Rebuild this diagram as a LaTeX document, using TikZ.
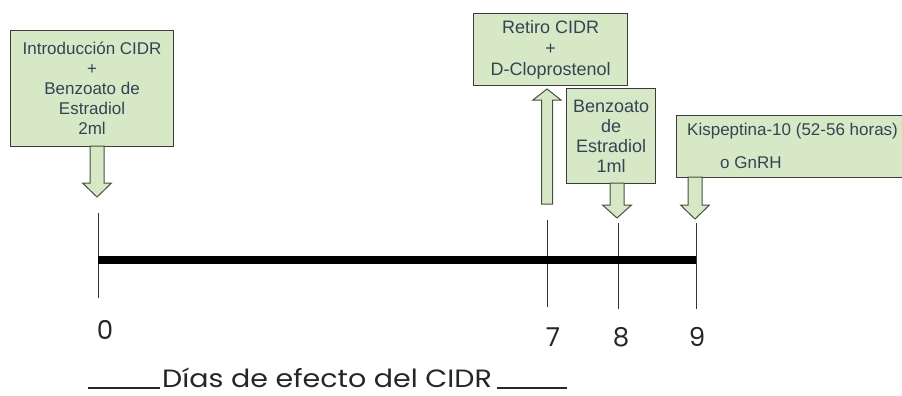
\documentclass[tikz,border=0pt]{standalone}
\usepackage{fontspec}
\setmainfont{Liberation Sans}
\newfontfamily\geofont{Poppins}
\definecolor{boxfill}{RGB}{214,232,198}
\definecolor{boxline}{RGB}{60,60,60}
\definecolor{boxtext}{RGB}{52,68,84}
\definecolor{arrowline}{RGB}{70,80,60}
\tikzset{
  evbox/.style={draw=boxline, line width=1.1pt, fill=boxfill, text=boxtext,
    anchor=north west, inner sep=0pt, align=center},
  barrow/.style={draw=arrowline, line width=1pt, fill=boxfill, line join=miter},
  tickline/.style={draw=black!80, line width=1pt},
  daylbl/.style={font=\geofont\fontsize{26}{28}\selectfont, text=black!85, inner sep=0pt},
  underl/.style={draw=black!85, line width=1.6pt},
}
\newcommand\blockdown[4]{%
  \draw[barrow] (#1-7,#2) -- (#1+7,#2) -- (#1+7,#3) -- (#1+14.5,#3) -- (#1,#4)
    -- (#1-14.5,#3) -- (#1-7,#3) -- cycle;}
\begin{document}
\begin{tikzpicture}[x=1pt,y=-1pt]
\useasboundingbox (0,0) rectangle (902,396);

% boxes
\node[evbox, minimum width=163pt, minimum height=116pt,
  font=\fontsize{17}{20}\selectfont] (b1) at (10,30)
  {Introducción CIDR\\+\\Benzoato de\\Estradiol\\2ml};
\node[evbox, minimum width=154pt, minimum height=72pt,
  font=\fontsize{18}{21}\selectfont] (b2) at (473,13)
  {Retiro CIDR\\+\\D-Cloprostenol};
\node[evbox, minimum width=89pt, minimum height=95pt,
  font=\fontsize{18}{20}\selectfont] (b3) at (566,88)
  {Benzoato\\de\\Estradiol\\1ml};
\node[evbox, minimum width=226pt, minimum height=62pt] (b4) at (676,115) {};
\node[text=boxtext, anchor=west, inner sep=0pt, font=\fontsize{17}{20}\selectfont]
  (k1) at (687,131) {Kispeptina-10 (52-56 horas)};
\node[text=boxtext, anchor=west, inner sep=0pt, font=\fontsize{17}{20}\selectfont]
  (k2) at (720,163) {o GnRH};

% block arrows
\blockdown{97}{146}{183}{197}
\draw[barrow] (547-5.5,204) -- (547+5.5,204) -- (547+5.5,100) -- (547+14,100)
  -- (547,89) -- (547-14,100) -- (547-5.5,100) -- cycle;
\blockdown{617}{183}{205}{218}
\blockdown{695}{177}{205}{219}

% timeline
\coordinate (t0a) at (98,213);  \coordinate (t0b) at (98,298);
\coordinate (t7a) at (547,220); \coordinate (t7b) at (547,307);
\coordinate (t8a) at (618,223); \coordinate (t8b) at (618,309);
\coordinate (t9a) at (696,223); \coordinate (t9b) at (696,309);
\draw[tickline] (t0a) -- (t0b);
\draw[tickline] (t7a) -- (t7b);
\draw[tickline] (t8a) -- (t8b);
\draw[tickline] (t9a) -- (t9b);
\coordinate (bs) at (98,260); \coordinate (be) at (696,260);
\draw[line width=8.5pt, black] (bs) -- (be);

% day labels
\node[daylbl] (d0) at (105,330) {0};
\node[daylbl] (d7) at (553,337) {7};
\node[daylbl] (d8) at (621,337) {8};
\node[daylbl] (d9) at (697,337) {9};

% caption
\node[daylbl, font=\geofont\fontsize{25}{27}\selectfont, anchor=base west,
  text depth=0pt] (cap) at (162,387)
  {\scalebox{1.14}[1]{Días de efecto del CIDR}};
\coordinate (u1a) at (88,388);  \coordinate (u1b) at (160,388);
\coordinate (u2a) at (497,388); \coordinate (u2b) at (567,388);
\draw[underl] (u1a) -- (u1b);
\draw[underl] (u2a) -- (u2b);
\end{tikzpicture}
\end{document}
